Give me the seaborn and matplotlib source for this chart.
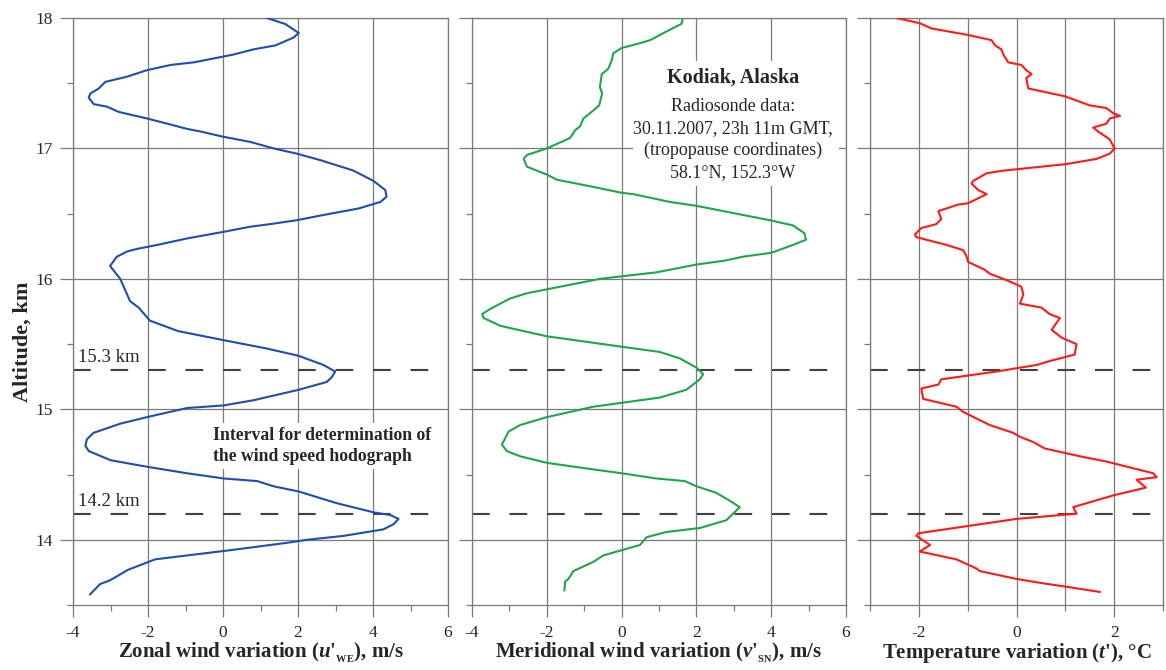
import numpy as np
import pandas as pd
import matplotlib
matplotlib.use("Agg")
import matplotlib.pyplot as plt
import seaborn as sns
from matplotlib.ticker import MultipleLocator
from matplotlib.patches import Rectangle

# ---------------- data ----------------
zonal_u = [1.17, 1.66, 2.02, 1.88, 1.40, 0.82, 0.28, -0.07, -0.78, -1.40, -2.03, -2.56, -3.14, -3.31,
           -3.54, -3.58, -3.45, -3.09, -2.78, -2.03, -1.49, -0.96, -0.60, 0.00, 0.73, 1.35, 1.97, 2.60,
           3.48, 4.02, 4.33, 4.36, 4.20, 3.62, 2.68, 1.97, 1.26, 0.73, 0.00, -0.96, -1.76, -2.29, -2.56,
           -2.83, -3.01, -2.96, -2.74, -2.48, -2.25, -1.95, -1.20, 0.02, 1.17, 2.02, 2.68, 2.99, 2.91,
           2.77, 2.02, 0.82, 0.02, -0.96, -2.03, -2.74, -3.45, -3.63, -3.67, -3.58, -3.00, -2.03, -0.96,
           0.02, 0.91, 1.35, 2.02, 3.04, 4.02, 4.46, 4.68, 4.55, 4.28, 3.22, 2.24, 1.79, 0.19, -1.81,
           -2.53, -3.01, -3.28, -3.55]
zonal_alt = [18.00, 17.954, 17.885, 17.85, 17.79, 17.76, 17.72, 17.70, 17.66, 17.64, 17.60, 17.55, 17.51,
             17.46, 17.42, 17.39, 17.34, 17.32, 17.28, 17.23, 17.19, 17.15, 17.13, 17.09, 17.05, 17.00,
             16.96, 16.91, 16.83, 16.75, 16.68, 16.63, 16.59, 16.54, 16.49, 16.45, 16.42, 16.40, 16.36,
             16.31, 16.26, 16.23, 16.21, 16.17, 16.10, 16.08, 16.00, 15.83, 15.78, 15.68, 15.60, 15.53,
             15.466, 15.41, 15.34, 15.29, 15.25, 15.21, 15.15, 15.07, 15.03, 15.01, 14.94, 14.89, 14.82,
             14.77, 14.72, 14.68, 14.61, 14.56, 14.51, 14.47, 14.45, 14.41, 14.37, 14.28, 14.21, 14.19,
             14.16, 14.12, 14.08, 14.03, 14.00, 13.98, 13.92, 13.85, 13.77, 13.69, 13.66, 13.58]

merid_v = [1.64, 1.60, 1.29, 0.76, 0.40, 0.00, -0.22, -0.27, -0.36, -0.53, -0.58, -0.52, -0.60, -0.76,
           -1.02, -1.11, -1.24, -1.38, -2.00, -2.53, -2.62, -2.53, -2.00, -1.73, -0.84, 0.00, 0.31, 1.29,
           2.00, 3.96, 4.58, 4.89, 4.93, 4.58, 4.00, 3.24, 2.76, 2.00, 0.93, 0.00, -0.58, -2.00, -2.53,
           -2.98, -3.51, -3.73, -3.69, -3.24, -2.00, 0.00, 1.02, 1.56, 2.00, 2.18, 2.09, 1.73, 1.02, 0.00,
           -0.76, -2.00, -2.71, -3.02, -3.20, -3.07, -2.71, -2.00, -1.02, 0.00, 0.93, 1.69, 2.00, 2.53,
           2.89, 3.16, 2.98, 2.80, 2.09, 1.20, 0.67, 0.49, 0.00, -0.49, -0.76, -1.29, -1.42, -1.51, -1.53]
merid_alt = [18.00, 17.955, 17.91, 17.83, 17.80, 17.77, 17.73, 17.67, 17.61, 17.57, 17.47, 17.42, 17.33,
             17.29, 17.23, 17.17, 17.14, 17.08, 17.00, 16.95, 16.92, 16.86, 16.80, 16.76, 16.71, 16.66,
             16.65, 16.59, 16.56, 16.45, 16.41, 16.35, 16.30, 16.26, 16.20, 16.17, 16.14, 16.11, 16.05,
             16.02, 16.00, 15.92, 15.89, 15.85, 15.77, 15.73, 15.70, 15.64, 15.56, 15.48, 15.44, 15.39,
             15.32, 15.27, 15.23, 15.15, 15.09, 15.05, 15.02, 14.94, 14.88, 14.83, 14.73, 14.68, 14.64,
             14.59, 14.55, 14.51, 14.47, 14.45, 14.41, 14.36, 14.30, 14.25, 14.20, 14.15, 14.09, 14.06,
             14.02, 13.96, 13.92, 13.88, 13.83, 13.76, 13.70, 13.68, 13.61]

temp_t = [-2.46, -1.98, -1.74, -0.99, -0.51, -0.44, -0.31, -0.27, -0.17, 0.10, 0.20, 0.31, 0.20, 0.24,
          0.99, 1.50, 1.84, 1.98, 2.12, 1.91, 1.84, 1.57, 1.67, 1.91, 1.95, 2.01, 1.91, 1.64, 1.02, -0.27,
          -0.61, -0.89, -0.92, -0.78, -0.61, -0.99, -1.19, -1.60, -1.54, -1.64, -1.95, -2.08, -2.05, -1.43,
          -1.09, -1.02, -0.99, -0.65, -0.55, -0.20, 0.10, 0.14, 0.07, 0.51, 0.68, 0.89, 0.72, 0.92, 1.23,
          1.19, 0.68, 0.41, -0.41, -1.54, -1.60, -1.95, -1.91, -1.23, -1.09, -0.55, -0.07, 0.07, 0.34,
          0.58, 1.30, 1.84, 2.80, 2.87, 2.46, 2.65, 1.98, 1.16, 1.23, 0.00, -2.01, -2.05, -1.77, -1.98,
          -1.23, -0.82, -0.75, 0.00, 0.48, 1.02, 1.71]
temp_alt = [18.00, 17.96, 17.92, 17.87, 17.83, 17.79, 17.76, 17.72, 17.66, 17.64, 17.60, 17.57, 17.54,
            17.46, 17.40, 17.33, 17.31, 17.27, 17.25, 17.23, 17.19, 17.16, 17.13, 17.07, 17.04, 17.00,
            16.96, 16.92, 16.88, 16.83, 16.81, 16.75, 16.73, 16.68, 16.65, 16.58, 16.57, 16.52, 16.46,
            16.42, 16.39, 16.34, 16.32, 16.26, 16.22, 16.17, 16.13, 16.07, 16.04, 15.99, 15.94, 15.88,
            15.81, 15.78, 15.73, 15.70, 15.61, 15.55, 15.50, 15.42, 15.37, 15.34, 15.29, 15.23, 15.19,
            15.16, 15.08, 15.02, 14.98, 14.88, 14.82, 14.79, 14.75, 14.70, 14.64, 14.60, 14.51, 14.48,
            14.46, 14.40, 14.34, 14.25, 14.20, 14.16, 14.05, 14.03, 13.96, 13.91, 13.85, 13.78, 13.76,
            13.70, 13.67, 13.64, 13.60]

interval_levels = [15.3, 14.2]
interval_labels = ["15.3 km", "14.2 km"]

# ---------------- style ----------------
sns.set_style("white")
plt.rcParams["font.family"] = ["Liberation Serif", "DejaVu Serif"]
plt.rcParams["axes.unicode_minus"] = False
plt.rcParams["mathtext.fontset"] = "custom"
plt.rcParams["mathtext.rm"] = "Liberation Serif"
plt.rcParams["mathtext.it"] = "Liberation Serif:italic"
plt.rcParams["mathtext.bf"] = "Liberation Serif:bold"
plt.rcParams["mathtext.bfit"] = "Liberation Serif:italic:bold"

GRID = "#7a7a7a"
fig = plt.figure(figsize=(11.66, 6.70), dpi=100)
W, H = 1166, 670
top, bot = 18, 605
def ax_at(l, r):
    return fig.add_axes([l / W, 1 - bot / H, (r - l) / W, (bot - top) / H])

ax1 = ax_at(73, 448)
ax2 = ax_at(472, 846)
ax3 = ax_at(870, 1163)

df1 = pd.DataFrame({"x": zonal_u, "alt": zonal_alt})
df2 = pd.DataFrame({"x": merid_v, "alt": merid_alt})
df3 = pd.DataFrame({"x": temp_t, "alt": temp_alt})

for ax, df, col in [(ax1, df1, "#1f4db0"), (ax2, df2, "#1fa64a"), (ax3, df3, "#ff1a1a")]:
    sns.lineplot(data=df, x="x", y="alt", sort=False, estimator=None, orient="y",
                 color=col, lw=1.5, ax=ax, zorder=3)
    ax.set_ylim(13.5, 18)
    ax.yaxis.set_major_locator(MultipleLocator(1))
    ax.yaxis.set_minor_locator(MultipleLocator(0.5))
    ax.grid(True, which="major", axis="y", color=GRID, lw=0.9)
    ax.set_xlabel("")
    ax.set_ylabel("")
    for s in ax.spines.values():
        s.set_color(GRID)
        s.set_linewidth(0.9)
    ax.tick_params(which="major", width=0.9, color=GRID, labelsize=12.5)
    ax.tick_params(which="minor", length=4, width=0.9, color=GRID)
    ax.tick_params(axis="y", which="major", length=9.5, pad=5)
    ax.tick_params(axis="x", which="major", length=8.6, pad=6)
    ax.tick_params(axis="y", which="both", left=True, direction="out")
    ax.tick_params(axis="x", which="both", bottom=True, direction="out")
    for lev in interval_levels:
        ax.axhline(lev, color="#404040", lw=1.5, dashes=(8.5, 9.5), zorder=2)

for ax in (ax1, ax2):
    ax.set_xlim(-4, 6)
    ax.xaxis.set_major_locator(MultipleLocator(2))
    ax.xaxis.set_minor_locator(MultipleLocator(1))
    ax.grid(True, which="major", axis="x", color=GRID, lw=0.9)

ax3.set_xlim(-3, 3)
ax3.xaxis.set_major_locator(MultipleLocator(2))
ax3.xaxis.set_minor_locator(MultipleLocator(1))
ax3.grid(True, which="both", axis="x", color=GRID, lw=0.9)

ax2.tick_params(axis="y", labelleft=False)
ax3.tick_params(axis="y", labelleft=False)
ax1.set_yticks([14, 15, 16, 17, 18])

lab_kw = dict(fontsize=15, fontweight="bold")
ax1.set_xlabel(r"Zonal wind variation ($\mathbfit{u}$'$_{_{\mathbf{WE}}}$), m/s", labelpad=0, **lab_kw)
ax2.set_xlabel(r"Meridional wind variation ($\mathbfit{v}$'$_{_{\mathbf{SN}}}$), m/s", labelpad=0, **lab_kw)
ax3.set_xlabel(r"Temperature variation ($\mathbfit{t}$'), °C", labelpad=0, **lab_kw)
ax1.set_ylabel("Altitude, km", fontsize=16, fontweight="bold")
ax1.yaxis.set_label_coords(-0.108, 0.448)

for lev, lab in zip(interval_levels, interval_labels):
    ax1.text(-3.87, lev + 0.095, lab, fontsize=13.5, ha="left", va="center", zorder=4)

ax1.text(-0.27, 14.72, "Interval for determination of\nthe wind speed hodograph",
         fontsize=12.7, fontweight="bold", ha="left", va="center", linespacing=1.3, zorder=4,
         bbox=dict(facecolor="white", edgecolor="none", pad=3))

# white area behind the station annotation
ax2.add_patch(Rectangle((0.3, 16.71), 5.5, 0.96, facecolor="white", edgecolor="none", zorder=1))
ax2.text(2.98, 17.07, "Radiosonde data:\n30.11.2007, 23h 11m GMT,\n(tropopause coordinates)\n58.1°N, 152.3°W",
         fontsize=13, ha="center", va="center", linespacing=1.38, zorder=4)
ax2.text(2.98, 17.54, "Kodiak, Alaska", fontsize=14.5, fontweight="bold", ha="center", va="center",
         zorder=5)

fig.savefig("out.png", dpi=100)
